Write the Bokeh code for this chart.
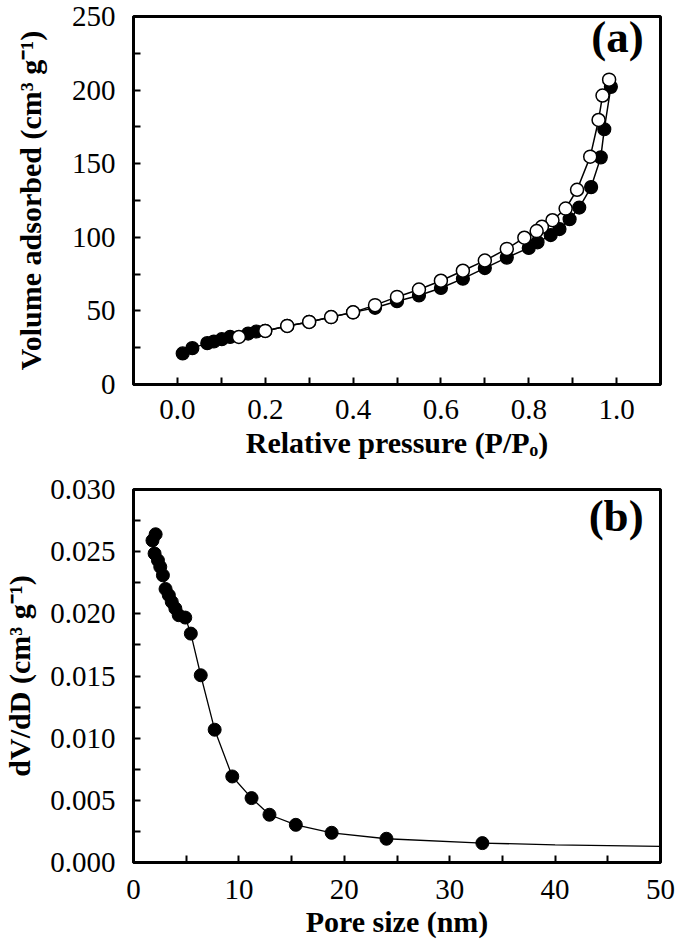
from bokeh.plotting import figure
from bokeh.models import Range1d, FixedTicker, PrintfTickFormatter, Label
from bokeh.layouts import column
from bokeh.embed import file_html
from bokeh.resources import INLINE

# ---- Data: (a) N2 isotherm ----
ads_p = [0.012, 0.034, 0.068, 0.083, 0.101, 0.12, 0.161, 0.18, 0.2, 0.25, 0.3, 0.35, 0.4,
         0.45, 0.5, 0.55, 0.6, 0.65, 0.7, 0.75, 0.8, 0.82, 0.85, 0.87, 0.893, 0.915,
         0.942, 0.964, 0.972, 0.987]
ads_v = [21.1, 24.7, 28.1, 29.2, 30.8, 32.3, 34.6, 36.0, 36.4, 39.8, 42.5, 45.8, 49.0,
         52.1, 56.6, 60.5, 65.6, 71.9, 79.1, 86.2, 92.8, 96.6, 101.5, 105.6, 112.3, 120.2,
         134.1, 154.3, 173.4, 202.2]
des_p = [0.983, 0.968, 0.959, 0.94, 0.91, 0.884, 0.854, 0.83, 0.818, 0.79, 0.75, 0.7,
         0.65, 0.6, 0.55, 0.5, 0.45, 0.4, 0.35, 0.3, 0.25, 0.2, 0.14]
des_v = [207.1, 196.3, 179.7, 154.8, 132.3, 119.5, 111.6, 107.1, 104.2, 99.7, 92.1, 84.2,
         77.3, 70.5, 64.5, 59.5, 53.9, 49.0, 45.8, 42.5, 39.8, 36.4, 32.3]

# ---- Data: (b) pore size distribution ----
pore_d = [2.1, 1.8, 2.0, 2.32, 2.54, 2.79, 3.04, 3.35, 3.63, 3.97, 4.29, 4.91, 5.44, 6.38,
          7.7, 9.37, 11.2, 12.9, 15.4, 18.8, 24.0, 33.1]
pore_dv = [0.0264, 0.0259, 0.02485, 0.0243, 0.02378, 0.0231, 0.0220, 0.0215, 0.02096,
           0.02043, 0.01989, 0.0197, 0.01841, 0.01506, 0.01068, 0.00692, 0.00518,
           0.00384, 0.00303, 0.00239, 0.00191, 0.00156]
tail_d = [33.1, 40.0, 50.0]
tail_dv = [0.00156, 0.00142, 0.00129]

xt_a = [0.0, 0.2, 0.4, 0.6, 0.8, 1.0]
xm_a = [0.1, 0.3, 0.5, 0.7, 0.9]
yt_a = [0, 50, 100, 150, 200, 250]
ym_a = [25, 75, 125, 175, 225]
xt_b = [0, 10, 20, 30, 40, 50]
xm_b = [5, 15, 25, 35, 45]
yt_b = [0.0, 0.005, 0.010, 0.015, 0.020, 0.025, 0.030]
ym_b = [0.0025, 0.0075, 0.0125, 0.0175, 0.0225, 0.0275]

FONT = "'Liberation Serif', 'Times New Roman', Times, serif"


def style(p, xt, xm, yt, ym, xfmt, yfmt, xlabel, ylabel, ylab_standoff, xstand, xlstand):
    p.xgrid.visible = False
    p.ygrid.visible = False
    p.outline_line_color = "black"
    p.outline_line_width = 3
    p.xaxis.ticker = FixedTicker(ticks=xt, minor_ticks=xm)
    p.yaxis.ticker = FixedTicker(ticks=yt, minor_ticks=ym)
    p.xaxis.formatter = PrintfTickFormatter(format=xfmt)
    p.yaxis.formatter = PrintfTickFormatter(format=yfmt)
    for ax in (p.xaxis, p.yaxis):
        ax.axis_line_width = 3
        ax.axis_line_color = "black"
        ax.major_tick_in = 7
        ax.major_tick_out = 0
        ax.minor_tick_in = 7
        ax.minor_tick_out = 0
        ax.major_tick_line_width = 2
        ax.minor_tick_line_width = 2
        ax.major_tick_line_color = "black"
        ax.minor_tick_line_color = "black"
        ax.major_label_text_font = FONT
        ax.major_label_text_font_size = "29px"
        ax.major_label_text_color = "black"
        ax.axis_label_text_font = FONT
        ax.axis_label_text_font_size = "30px"
        ax.axis_label_text_font_style = "bold"
        ax.axis_label_text_color = "black"
    p.xaxis.axis_label = xlabel
    p.yaxis.axis_label = ylabel
    p.xaxis.major_label_standoff = xstand
    p.xaxis.axis_label_standoff = xlstand
    p.yaxis.major_label_standoff = 18
    p.yaxis.axis_label_standoff = ylab_standoff


# ---- Figure (a) ----
p1 = figure(width=675, height=470, output_backend="svg", toolbar_location=None,
            x_range=Range1d(-0.1, 1.1), y_range=Range1d(0, 250),
            min_border_left=128, min_border_right=15, min_border_top=16, min_border_bottom=86)
style(p1, xt_a, xm_a, yt_a, ym_a, "%.1f", "%d",
      "Relative pressure (P/P\u2092)", "Volume adsorbed (cm\u00b3 g\u207b\u00b9)", 22, 15, 4)
p1.line(ads_p, ads_v, line_color="black", line_width=1.5)
p1.scatter(ads_p, ads_v, marker="circle", size=13, fill_color="black",
           line_color="black", line_width=1.2)
p1.line(des_p, des_v, line_color="black", line_width=1.5)
p1.scatter(des_p, des_v, marker="circle", size=13, fill_color="white",
           line_color="black", line_width=1.5)
p1.add_layout(Label(x=1.062, y=253.3, text="(a)", text_align="right", text_baseline="top",
                    text_font=FONT, text_font_size="45px", text_font_style="bold",
                    text_color="black"))

# ---- Figure (b) ----
p2 = figure(width=675, height=473, output_backend="svg", toolbar_location=None,
            x_range=Range1d(0, 50), y_range=Range1d(0, 0.030),
            min_border_left=128, min_border_right=15, min_border_top=19, min_border_bottom=81)
style(p2, xt_b, xm_b, yt_b, ym_b, "%d", "%.3f",
      "Pore size (nm)", "dV/dD (cm\u00b3 g\u207b\u00b9)", 11, 17, 3)
p2.line(pore_d, pore_dv, line_color="black", line_width=1.3)
p2.line(tail_d, tail_dv, line_color="black", line_width=1.3)
p2.scatter(pore_d, pore_dv, marker="circle", size=13, fill_color="black",
           line_color="black", line_width=1)
p2.add_layout(Label(x=48.4, y=0.0299, text="(b)", text_align="right", text_baseline="top",
                    text_font=FONT, text_font_size="45px", text_font_style="bold",
                    text_color="black"))

layout = column(p1, p2)
open("out.html", "w").write(file_html(layout, INLINE))
